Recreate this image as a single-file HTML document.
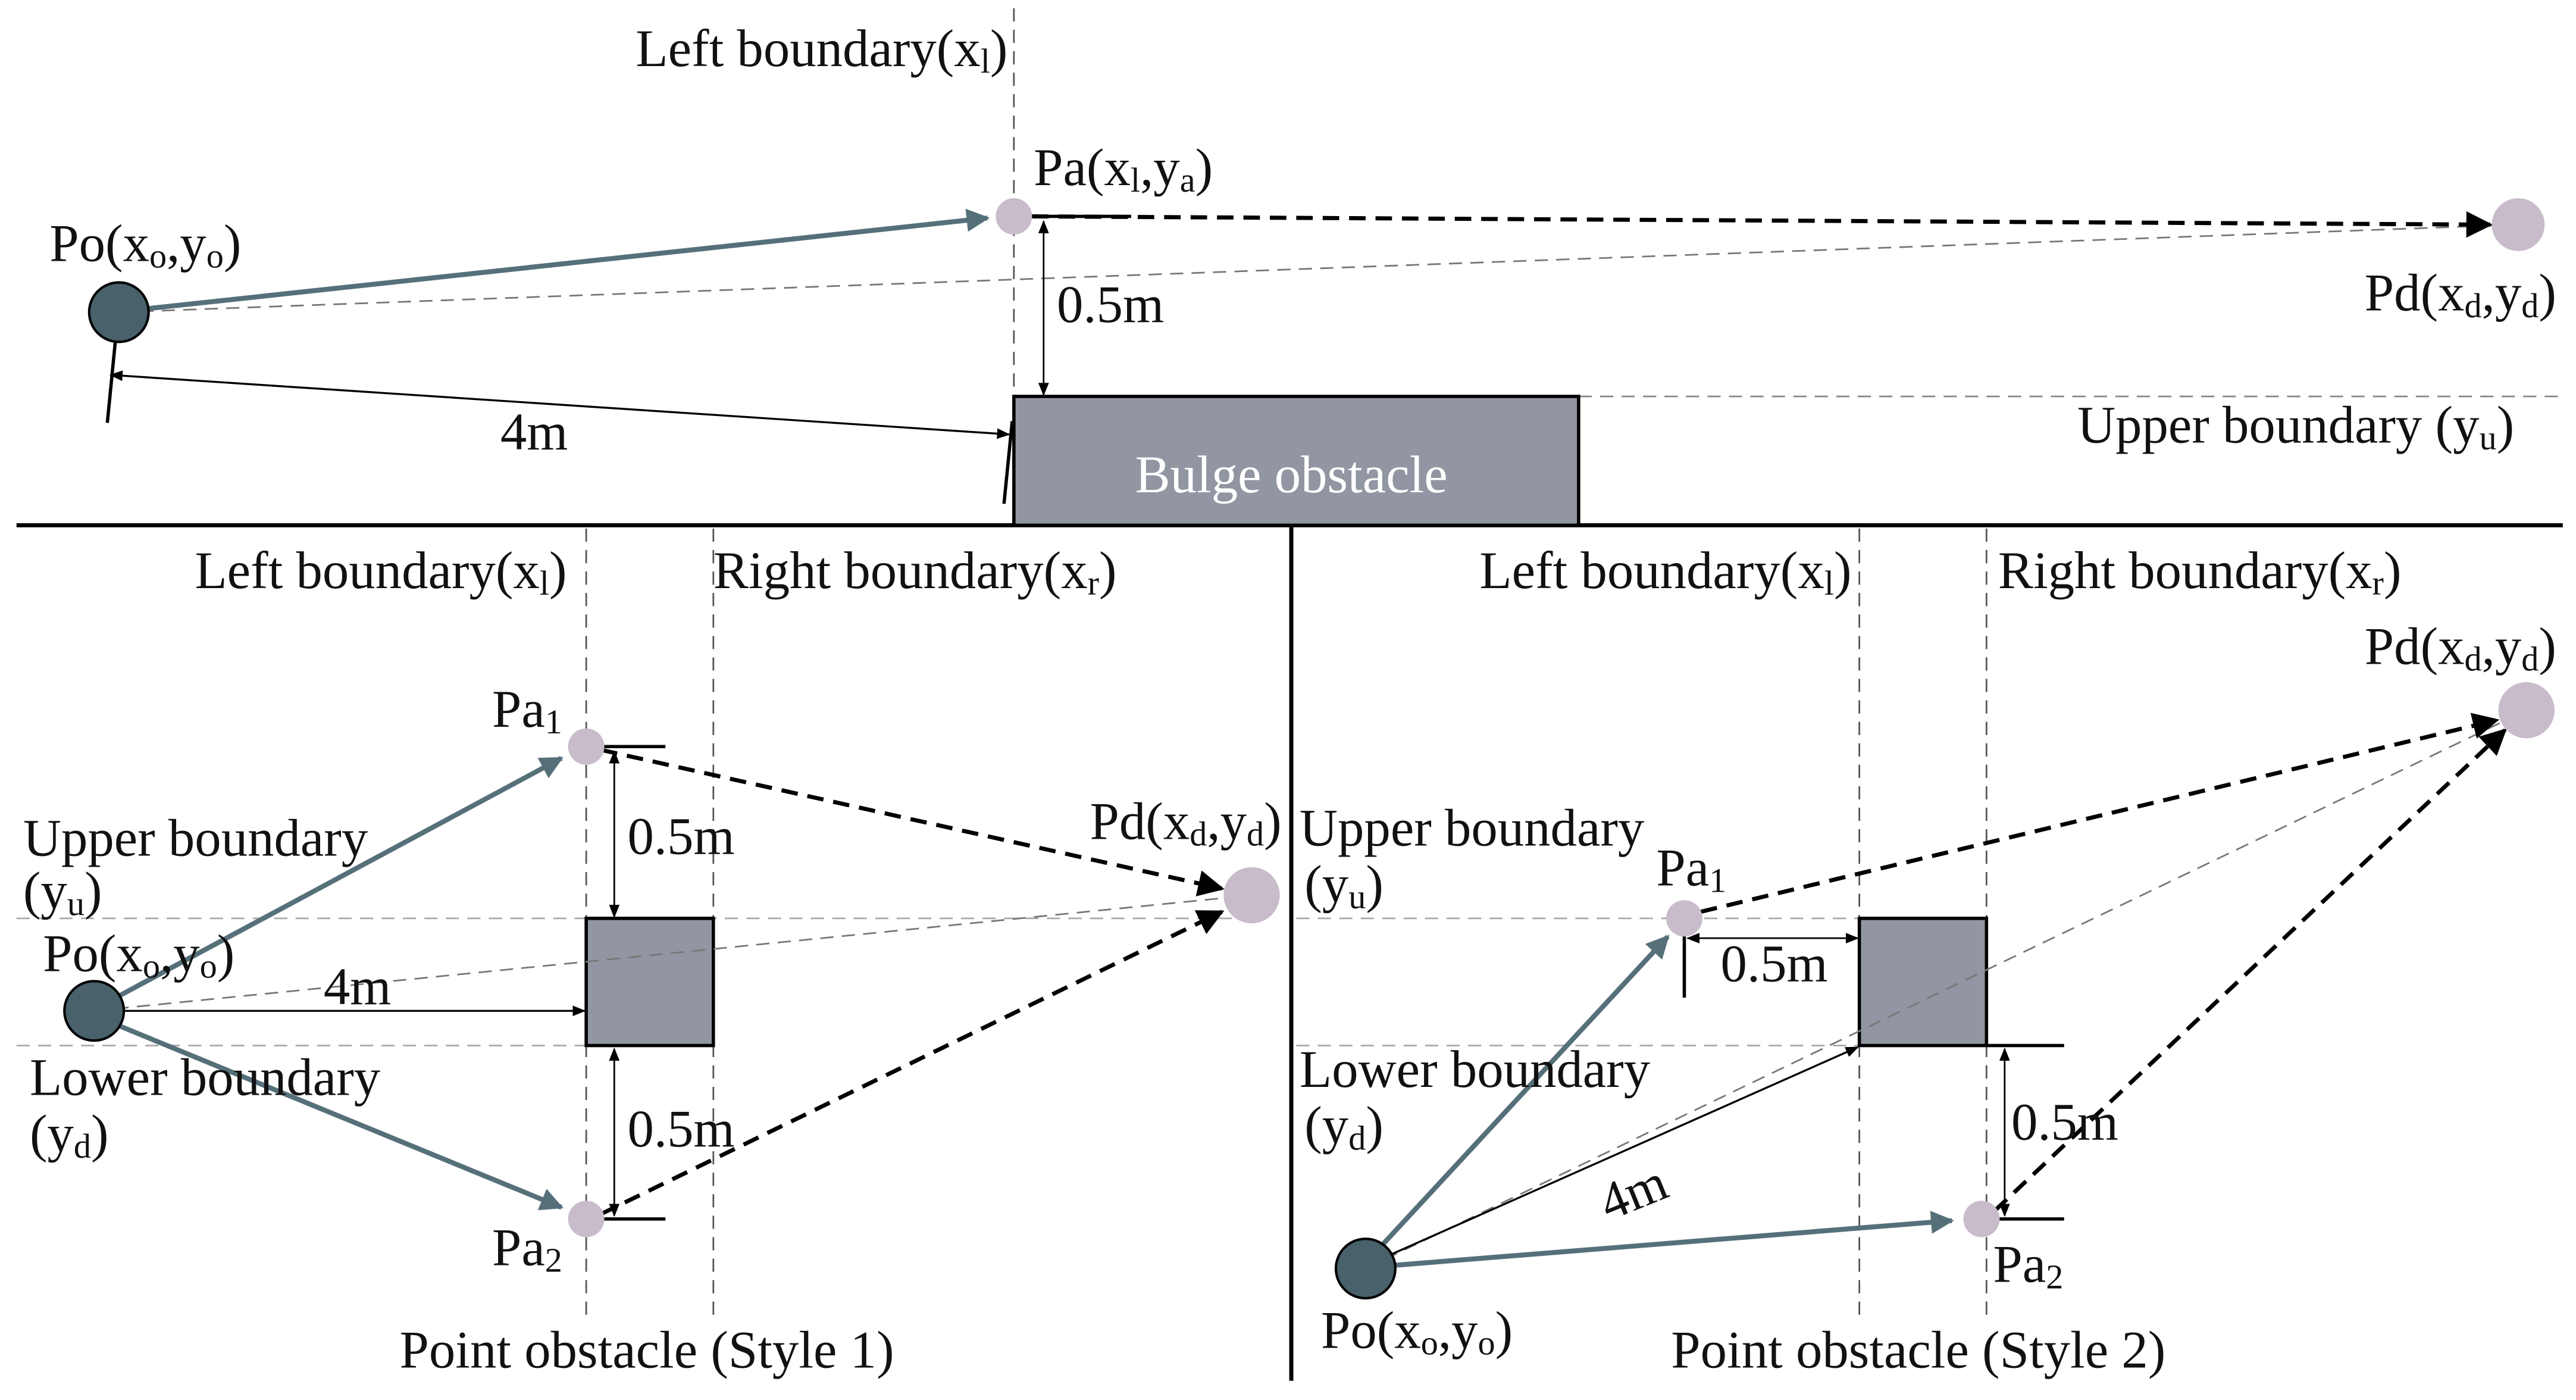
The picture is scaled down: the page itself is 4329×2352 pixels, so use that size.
<!DOCTYPE html>
<html><head><meta charset="utf-8"><style>
html,body{margin:0;padding:0;background:#fff;width:4329px;height:2352px;overflow:hidden}
svg{display:block}
text{font-family:"Liberation Serif",serif;font-size:32px;fill:#111}
.s{font-size:21px}
</style></head><body>
<svg width="4329" height="2352" viewBox="0 0 1560 847.6" preserveAspectRatio="none" xmlns="http://www.w3.org/2000/svg">
<defs>
<marker id="ab" viewBox="0 0 10 10" refX="9" refY="5" markerWidth="8" markerHeight="8" markerUnits="userSpaceOnUse" orient="auto-start-reverse"><path d="M0,1 L10,5 L0,9 z" fill="#000"/></marker>
<marker id="abig" viewBox="0 0 10 10" refX="9" refY="5" markerWidth="20" markerHeight="16" markerUnits="userSpaceOnUse" orient="auto"><path d="M0,0 L10,5 L0,10 z" fill="#000"/></marker>
<marker id="asl" viewBox="0 0 10 10" refX="9" refY="5" markerWidth="20" markerHeight="14" markerUnits="userSpaceOnUse" orient="auto"><path d="M0,0 L10,5 L0,10 z" fill="#56707a"/></marker>
</defs>
<rect width="1560" height="848" fill="#fff"/>
<line x1="10" y1="318" x2="1552" y2="318" stroke="#000" stroke-width="2.5"/>
<line x1="782" y1="318" x2="782" y2="836" stroke="#000" stroke-width="2.5"/>
<!-- TOP -->
<line x1="614" y1="5" x2="614" y2="318" stroke="#555" stroke-width="1" stroke-dasharray="8,5"/>
<text x="385" y="40">Left boundary(x<tspan class="s" dy="4">l</tspan><tspan dy="-4">)</tspan></text>
<line x1="956" y1="240" x2="1552" y2="240" stroke="#888" stroke-width="1" stroke-dasharray="8,5"/>
<rect x="614" y="240" width="342" height="78" fill="#9296a2" stroke="#000" stroke-width="2"/>
<text x="782" y="298" text-anchor="middle" style="fill:#fff">Bulge obstacle</text>
<text x="1258" y="268">Upper boundary (y<tspan class="s" dy="4">u</tspan><tspan dy="-4">)</tspan></text>
<line x1="72" y1="189" x2="1525" y2="136" stroke="#777" stroke-width="1" stroke-dasharray="8,5"/>
<line x1="88" y1="187" x2="598" y2="132" stroke="#56707a" stroke-width="3" marker-end="url(#asl)"/>
<line x1="614" y1="131" x2="685" y2="131" stroke="#000" stroke-width="2"/>
<line x1="625" y1="131" x2="1508" y2="136" stroke="#000" stroke-width="2.5" stroke-dasharray="10,6" marker-end="url(#abig)"/>
<line x1="632" y1="134" x2="632" y2="239" stroke="#000" stroke-width="1" marker-start="url(#ab)" marker-end="url(#ab)"/>
<text x="640" y="195">0.5m</text>
<line x1="70" y1="205" x2="65" y2="256" stroke="#000" stroke-width="2"/>
<line x1="613" y1="255" x2="608" y2="305" stroke="#000" stroke-width="2"/>
<line x1="67" y1="227" x2="611" y2="263" stroke="#000" stroke-width="1.2" marker-start="url(#ab)" marker-end="url(#ab)"/>
<text x="303" y="272">4m</text>
<circle cx="72" cy="189" r="18" fill="#48616b" stroke="#000" stroke-width="1.5"/>
<circle cx="614" cy="131" r="11" fill="#c8bccb"/>
<circle cx="1525" cy="136" r="16" fill="#c8bccb"/>
<text x="30" y="158">Po(x<tspan class="s" dy="4">o</tspan><tspan dy="-4">,y</tspan><tspan class="s" dy="4">o</tspan><tspan dy="-4">)</tspan></text>
<text x="626" y="112">Pa(x<tspan class="s" dy="4">l</tspan><tspan dy="-4">,y</tspan><tspan class="s" dy="4">a</tspan><tspan dy="-4">)</tspan></text>
<text x="1432" y="188">Pd(x<tspan class="s" dy="4">d</tspan><tspan dy="-4">,y</tspan><tspan class="s" dy="4">d</tspan><tspan dy="-4">)</tspan></text>
<!-- BOTTOM LEFT -->
<line x1="355" y1="320" x2="355" y2="800" stroke="#555" stroke-width="1" stroke-dasharray="8,5"/>
<line x1="432" y1="320" x2="432" y2="800" stroke="#555" stroke-width="1" stroke-dasharray="8,5"/>
<line x1="10" y1="556" x2="760" y2="556" stroke="#aaa" stroke-width="1" stroke-dasharray="8,5"/>
<line x1="10" y1="633" x2="355" y2="633" stroke="#aaa" stroke-width="1" stroke-dasharray="8,5"/>
<text x="118" y="356">Left boundary(x<tspan class="s" dy="4">l</tspan><tspan dy="-4">)</tspan></text>
<text x="432" y="356">Right boundary(x<tspan class="s" dy="4">r</tspan><tspan dy="-4">)</tspan></text>
<rect x="355" y="556" width="77" height="77" fill="#9296a2" stroke="#000" stroke-width="2"/>
<line x1="57" y1="612" x2="758" y2="542" stroke="#777" stroke-width="1" stroke-dasharray="8,5"/>
<line x1="72" y1="603" x2="340" y2="459" stroke="#56707a" stroke-width="3" marker-end="url(#asl)"/>
<line x1="72" y1="621" x2="340" y2="731" stroke="#56707a" stroke-width="3" marker-end="url(#asl)"/>
<line x1="364" y1="454" x2="740" y2="538" stroke="#000" stroke-width="2.5" stroke-dasharray="10,6" marker-end="url(#abig)"/>
<line x1="364" y1="735" x2="740" y2="552" stroke="#000" stroke-width="2.5" stroke-dasharray="10,6" marker-end="url(#abig)"/>
<line x1="355" y1="452" x2="403" y2="452" stroke="#000" stroke-width="2"/>
<line x1="355" y1="738" x2="403" y2="738" stroke="#000" stroke-width="2"/>
<line x1="372" y1="455" x2="372" y2="555" stroke="#000" stroke-width="1" marker-start="url(#ab)" marker-end="url(#ab)"/>
<line x1="372" y1="635" x2="372" y2="736" stroke="#000" stroke-width="1" marker-start="url(#ab)" marker-end="url(#ab)"/>
<line x1="60" y1="612" x2="354" y2="612" stroke="#000" stroke-width="1.2" marker-start="url(#ab)" marker-end="url(#ab)"/>
<circle cx="57" cy="612" r="18" fill="#48616b" stroke="#000" stroke-width="1.5"/>
<circle cx="355" cy="452" r="11" fill="#c8bccb"/>
<circle cx="355" cy="738" r="11" fill="#c8bccb"/>
<circle cx="758" cy="542" r="17" fill="#c8bccb"/>
<text x="14" y="518">Upper boundary</text>
<text x="14" y="550">(y<tspan class="s" dy="4">u</tspan><tspan dy="-4">)</tspan></text>
<text x="26" y="588">Po(x<tspan class="s" dy="4">o</tspan><tspan dy="-4">,y</tspan><tspan class="s" dy="4">o</tspan><tspan dy="-4">)</tspan></text>
<text x="196" y="608">4m</text>
<text x="18" y="663">Lower boundary</text>
<text x="18" y="697">(y<tspan class="s" dy="4">d</tspan><tspan dy="-4">)</tspan></text>
<text x="380" y="517">0.5m</text>
<text x="380" y="694">0.5m</text>
<text x="298" y="440">Pa<tspan class="s" dy="4">1</tspan></text>
<text x="298" y="766">Pa<tspan class="s" dy="4">2</tspan></text>
<text x="660" y="508">Pd(x<tspan class="s" dy="4">d</tspan><tspan dy="-4">,y</tspan><tspan class="s" dy="4">d</tspan><tspan dy="-4">)</tspan></text>
<text x="242" y="828">Point obstacle (Style 1)</text>
<!-- BOTTOM RIGHT -->
<line x1="1126" y1="320" x2="1126" y2="800" stroke="#555" stroke-width="1" stroke-dasharray="8,5"/>
<line x1="1203" y1="320" x2="1203" y2="800" stroke="#555" stroke-width="1" stroke-dasharray="8,5"/>
<line x1="785" y1="556" x2="1126" y2="556" stroke="#aaa" stroke-width="1" stroke-dasharray="8,5"/>
<line x1="785" y1="633" x2="1126" y2="633" stroke="#aaa" stroke-width="1" stroke-dasharray="8,5"/>
<text x="896" y="356">Left boundary(x<tspan class="s" dy="4">l</tspan><tspan dy="-4">)</tspan></text>
<text x="1210" y="356">Right boundary(x<tspan class="s" dy="4">r</tspan><tspan dy="-4">)</tspan></text>
<rect x="1126" y="556" width="77" height="77" fill="#9296a2" stroke="#000" stroke-width="2"/>
<line x1="1203" y1="633" x2="1250" y2="633" stroke="#000" stroke-width="2"/>
<line x1="1200" y1="738" x2="1250" y2="738" stroke="#000" stroke-width="2"/>
<line x1="1020" y1="556" x2="1020" y2="604" stroke="#000" stroke-width="2"/>
<line x1="1022" y1="568" x2="1125" y2="568" stroke="#000" stroke-width="1" marker-start="url(#ab)" marker-end="url(#ab)"/>
<line x1="1214" y1="635" x2="1214" y2="736" stroke="#000" stroke-width="1" marker-start="url(#ab)" marker-end="url(#ab)"/>
<line x1="827" y1="768" x2="1530" y2="430" stroke="#777" stroke-width="1" stroke-dasharray="8,5"/>
<line x1="835" y1="756" x2="1010" y2="567" stroke="#56707a" stroke-width="3" marker-end="url(#asl)"/>
<line x1="845" y1="766" x2="1182" y2="739" stroke="#56707a" stroke-width="3" marker-end="url(#asl)"/>
<line x1="830" y1="765" x2="1125" y2="634" stroke="#000" stroke-width="1.2" marker-end="url(#ab)"/>
<line x1="1030" y1="552" x2="1512" y2="436" stroke="#000" stroke-width="2.5" stroke-dasharray="10,6" marker-end="url(#abig)"/>
<line x1="1208" y1="733" x2="1517" y2="442" stroke="#000" stroke-width="2.5" stroke-dasharray="10,6" marker-end="url(#abig)"/>
<circle cx="827" cy="768" r="18" fill="#48616b" stroke="#000" stroke-width="1.5"/>
<circle cx="1020" cy="556" r="11" fill="#c8bccb"/>
<circle cx="1200" cy="738" r="11" fill="#c8bccb"/>
<circle cx="1530" cy="430" r="17" fill="#c8bccb"/>
<text x="787" y="512">Upper boundary</text>
<text x="790" y="546">(y<tspan class="s" dy="4">u</tspan><tspan dy="-4">)</tspan></text>
<text x="787" y="658">Lower boundary</text>
<text x="790" y="692">(y<tspan class="s" dy="4">d</tspan><tspan dy="-4">)</tspan></text>
<text x="1042" y="594">0.5m</text>
<text x="1218" y="690">0.5m</text>
<text x="968" y="732" transform="rotate(-22 990 720)">4m</text>
<text x="1003" y="536">Pa<tspan class="s" dy="4">1</tspan></text>
<text x="1207" y="776">Pa<tspan class="s" dy="4">2</tspan></text>
<text x="800" y="816">Po(x<tspan class="s" dy="4">o</tspan><tspan dy="-4">,y</tspan><tspan class="s" dy="4">o</tspan><tspan dy="-4">)</tspan></text>
<text x="1432" y="402">Pd(x<tspan class="s" dy="4">d</tspan><tspan dy="-4">,y</tspan><tspan class="s" dy="4">d</tspan><tspan dy="-4">)</tspan></text>
<text x="1012" y="828">Point obstacle (Style 2)</text>
</svg>
</body></html>
